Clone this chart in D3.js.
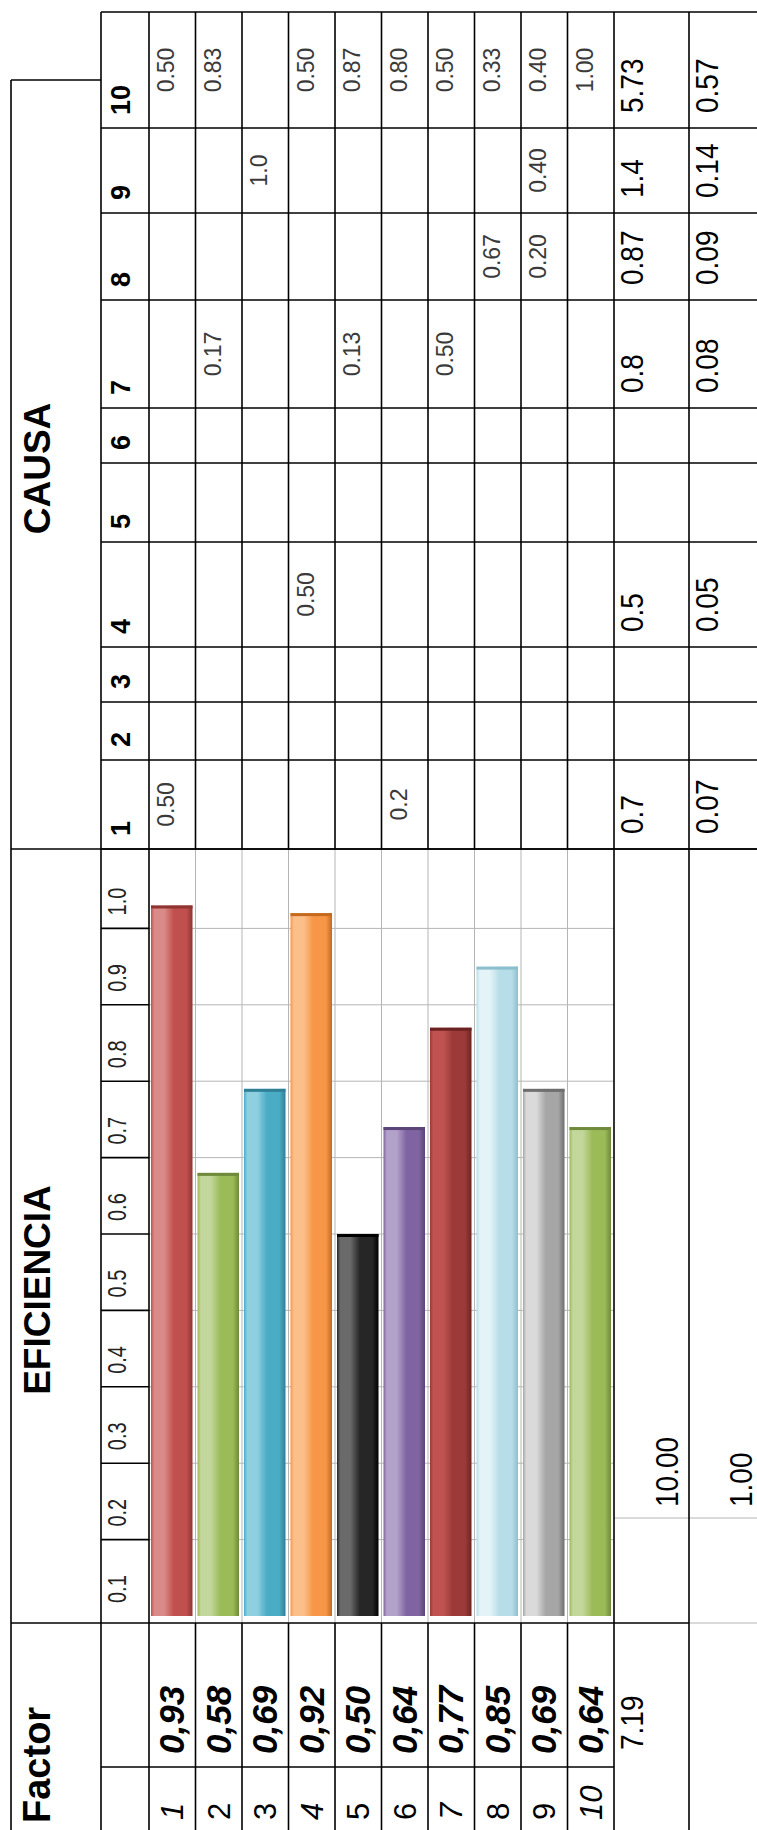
<!DOCTYPE html>
<html>
<head>
<meta charset="utf-8">
<script src="https://cdn.jsdelivr.net/npm/d3@7"></script>
<style>
  body { margin: 0; background: #fff; }
  svg { display: block; background: #fff; }
  text { font-family: "Liberation Sans", Arial, sans-serif; }
</style>
</head>
<body>
<svg width="757" height="1830"></svg>
<script>
// ---- data ----
var factors = [1, 2, 3, 4, 5, 6, 7, 8, 9, 10];
var efficiency = [0.93, 0.58, 0.69, 0.92, 0.50, 0.64, 0.77, 0.85, 0.69, 0.64];
var efficiencyTotal = "7.19";
var efficiencyMax = "10.00";
var efficiencyShare = "1.00";
var ticks = [0.1, 0.2, 0.3, 0.4, 0.5, 0.6, 0.7, 0.8, 0.9, 1.0];
var italicFactors = [1, 4, 7, 10];

var causas = [10, 9, 8, 7, 6, 5, 4, 3, 2, 1];
// matrix cells: factor row, causa column, printed value
var cellFactor = [1, 1, 2, 2, 3, 4, 4, 5, 5, 6, 6, 7, 7, 8, 8, 9, 9, 9, 10];
var cellCausa  = [1, 10, 7, 10, 9, 4, 10, 7, 10, 1, 10, 7, 10, 8, 10, 8, 9, 10, 10];
var cellValue  = ["0.50", "0.50", "0.17", "0.83", "1.0", "0.50", "0.50", "0.13", "0.87",
                  "0.2", "0.80", "0.50", "0.50", "0.67", "0.33", "0.20", "0.40", "0.40", "1.00"];
var totalCausa = [1, 4, 7, 8, 9, 10];
var totalValue = ["0.7", "0.5", "0.8", "0.87", "1.4", "5.73"];
var shareValue = ["0.07", "0.05", "0.08", "0.09", "0.14", "0.57"];

var barColors = [
  ["#DA8A88", "#C0504D", "#8E3532"],
  ["#C3D69B", "#9BBB59", "#6F8A3A"],
  ["#8ED0E0", "#4BACC6", "#2F7F96"],
  ["#FBBF8A", "#F79646", "#C46A1E"],
  ["#6A6A6A", "#262626", "#000000"],
  ["#B2A1C9", "#8064A2", "#5A4478"],
  ["#C05350", "#9B3A38", "#6B2321"],
  ["#E4F3F7", "#B7DEE8", "#8CBFCD"],
  ["#DADADA", "#A6A6A6", "#6E6E6E"],
  ["#C3D69B", "#9BBB59", "#6F8A3A"]
];

// ---- layout ----
var svg = d3.select("svg");
var xLeft = 11, xTitle = 101, xHead = 149, xRows = 614, xTotal = 689, xEnd = 760;
var yTop = 12, yCausaBox = 80, yEfTop = 849, yEfBottom = 1623, yIndex = 1767, yEnd = 1830;
var causaSpan = [116, 85, 87, 108, 55, 79, 105, 55, 58, 89];

var x = d3.scaleBand().domain(factors).range([xHead, xRows]);
var y = d3.scaleLinear().domain([0, 1]).range([1616, 852]);

var causaEdges = {};
var acc = yTop;
causas.forEach(function (c, i) {
  causaEdges[c] = [acc, acc + causaSpan[i]];
  acc += causaSpan[i];
});

function line(x1, y1, x2, y2, color, w) {
  svg.append("line")
    .attr("x1", x1).attr("y1", y1).attr("x2", x2).attr("y2", y2)
    .attr("stroke", color || "#000")
    .attr("stroke-width", w || 1.6);
}

function vtext(px, py, txt, size, opts) {
  opts = opts || {};
  return svg.append("text")
    .attr("transform", "translate(" + px + "," + py + ") rotate(-90) scale(1," + (opts.stretch || 1) + ")")
    .attr("text-anchor", opts.anchor || "start")
    .attr("font-size", size)
    .attr("font-weight", opts.bold ? "bold" : "normal")
    .attr("font-style", opts.italic ? "italic" : "normal")
    .attr("fill", opts.fill || "#000")
    .text(txt);
}

// ---- gradients for bars ----
var defs = svg.append("defs");
barColors.forEach(function (c, i) {
  var grad = defs.append("linearGradient")
    .attr("id", "bar" + i)
    .attr("x1", "0").attr("x2", "1").attr("y1", "0").attr("y2", "0");
  [[0, c[1]], [0.08, c[0]], [0.32, c[0]], [0.55, c[1]], [0.85, c[1]], [1, c[2]]].forEach(function (s) {
    grad.append("stop").attr("offset", s[0]).attr("stop-color", s[1]);
  });
});

// ---- efficiency gridlines ----
ticks.slice(0, -1).forEach(function (t) {
  line(xHead, y(t), xRows, y(t), "#b5b5b5", 1);
});
factors.slice(1).forEach(function (f) {
  line(x(f), yEfTop, x(f), yEfBottom, "#b5b5b5", 1);
});
line(xRows, 1518, xEnd, 1518, "#b5b5b5", 1);

// ---- bars ----
svg.append("g").selectAll("rect")
  .data(factors)
  .enter().append("rect")
  .attr("x", function (f) { return x(f) + 2; })
  .attr("width", x.bandwidth() - 5)
  .attr("y", function (f, i) { return y(efficiency[i]); })
  .attr("height", function (f, i) { return y(0) - y(efficiency[i]); })
  .attr("fill", function (f, i) { return "url(#bar" + i + ")"; });

svg.append("g").selectAll("rect")
  .data(factors)
  .enter().append("rect")
  .attr("x", function (f) { return x(f) + 2; })
  .attr("width", x.bandwidth() - 5)
  .attr("y", function (f, i) { return y(efficiency[i]); })
  .attr("height", 3)
  .attr("fill", function (f, i) { return barColors[i][2]; });

// ---- table lines ----
line(xTitle, yTop, xEnd, yTop);
line(xLeft, yCausaBox, xTitle, yCausaBox);
line(xLeft, yCausaBox, xLeft, yEnd);
line(xTitle, yTop, xTitle, yEnd);
line(xLeft, yEfTop, xEnd, yEfTop);
line(xLeft, yEfBottom, xTotal, yEfBottom);
line(xTotal, yEfBottom, xEnd, yEfBottom, "#b5b5b5", 1);
line(xTitle, yIndex, xRows, yIndex);
line(xHead, yTop, xHead, yEnd);
line(xRows, yTop, xRows, yEnd);
line(xTotal, yTop, xTotal, yEnd);

// causa grid
causas.forEach(function (c) {
  line(xTitle, causaEdges[c][1], xEnd, causaEdges[c][1]);
});
factors.slice(1).forEach(function (f) {
  line(x(f), yTop, x(f), yEfTop);
  line(x(f), yEfBottom, x(f), yEnd);
});

// tick cells
ticks.slice(0, -1).forEach(function (t) {
  line(xTitle, y(t), xHead, y(t));
});

// ---- titles ----
vtext(50, (yCausaBox + yEfTop) / 2 + 4, "CAUSA", 37, { bold: true, anchor: "middle" });
vtext(50, 1290, "EFICIENCIA", 37, { bold: true, anchor: "middle" });
vtext(50, 1823, "Factor", 38, { bold: true });

// ---- causa headers and matrix ----
causas.forEach(function (c) {
  vtext(130, causaEdges[c][1] - 13, String(c), 27, { bold: true });
});

cellValue.forEach(function (v, i) {
  var e = causaEdges[cellCausa[i]];
  vtext(x(cellFactor[i]) + 25, (e[0] + e[1]) / 2, v, 23, { anchor: "middle", fill: "#3a3a3a", stretch: 1.05 });
});

totalCausa.forEach(function (c, i) {
  var e = causaEdges[c];
  vtext(xRows + 29, e[1] - 15, totalValue[i], 28, { stretch: 1.12 });
  vtext(xTotal + 29, e[1] - 15, shareValue[i], 28, { stretch: 1.12 });
});

// ---- efficiency tick labels ----
ticks.forEach(function (t) {
  vtext(126, y(t - 0.1) - 13, t.toFixed(1), 20, { stretch: 1.25, fill: "#222" });
});

vtext(xRows + 64, 1507, efficiencyMax, 28, { stretch: 1.12 });
vtext(xTotal + 63, 1507, efficiencyShare, 28, { stretch: 1.12 });

// ---- factor values and index ----
factors.forEach(function (f, i) {
  vtext(x(f) + 35, yIndex - 13, efficiency[i].toFixed(2).replace(".", ","), 35, { bold: true, italic: true });
  vtext(x(f) + 34, yEnd - 10, String(f), 31, { italic: italicFactors.indexOf(f) >= 0 });
});
vtext(xRows + 29, 1750, efficiencyTotal, 28, { stretch: 1.12 });
</script>
</body>
</html>
